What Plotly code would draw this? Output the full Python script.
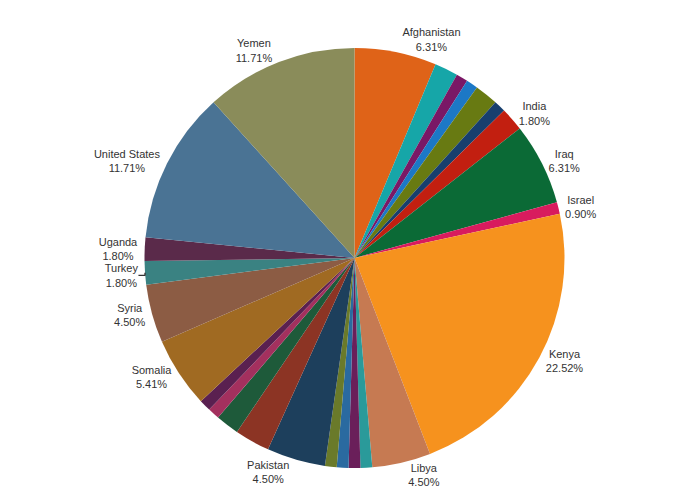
import plotly.graph_objects as go

labels = ["Afghanistan","Algeria","Belgium","Canada","Egypt","France","India","Iraq","Israel","Kenya","Libya",
          "Mali","Nigeria","Norway","Oman","Pakistan","Philippines","Russia","Saudi Arabia","Sierra Leone",
          "Somalia","Syria","Turkey","Uganda","United States","Yemen"]
values = [7,2,1,1,2,1,2,7,1,25,5,1,1,1,1,5,3,2,1,1,6,5,2,2,13,13]
shown = {"Afghanistan","India","Iraq","Israel","Kenya","Libya","Pakistan","Somalia","Syria","Turkey","Uganda","United States","Yemen"}
colors = ["#df6318","#16a6a8","#7a1866","#1c78c6","#687a12","#173f6e","#c21f10","#0b6a36","#d81b5e","#f6921e","#c67a52",
          "#2a9a9a","#6a1f5a","#2a6aa0","#6a7a2a","#1d3f5c","#8c3424","#1e5a3a","#a3305e","#5a2050","#a06a22",
          "#8c5c44","#3a8282","#5a2a4a","#4a7394","#8a8c5a"]

texts = [f"{l}<br>{v/sum(values)*100:.2f}%" if l in shown else "" for l, v in zip(labels, values)]

fig = go.Figure(go.Pie(
    labels=labels, values=values, sort=False, direction="clockwise", rotation=0,
    marker=dict(colors=colors, line=dict(width=0)),
    text=texts, textinfo="text", textposition="outside",
    textfont=dict(size=11, color="#333333", family="Arial, Liberation Sans"),
    showlegend=False, hoverinfo="label+percent"))
fig.update_layout(width=674, height=500, margin=dict(l=70, r=70, t=40, b=40),
                  paper_bgcolor="white", uniformtext=None)
fig.write_html("out.html")
